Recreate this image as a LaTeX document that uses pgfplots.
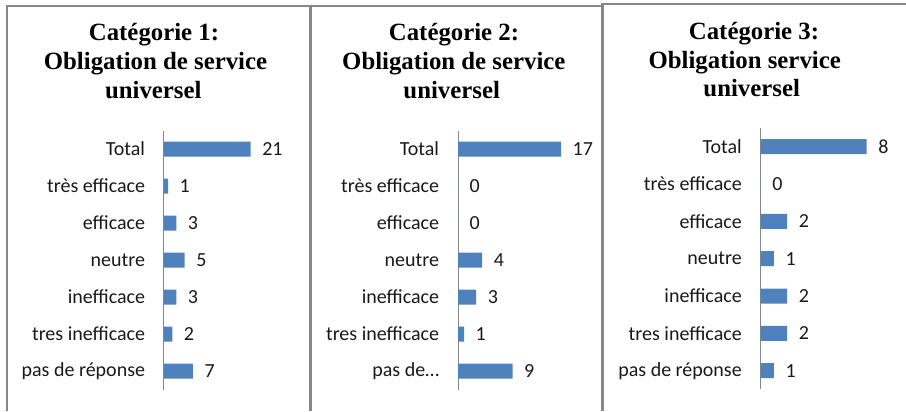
\documentclass[border=0pt]{standalone}
\usepackage{fontspec}
\setmainfont{Carlito}
\newfontfamily\titlefont{Liberation Serif}
\usepackage{pgfplots}
\pgfplotsset{compat=1.18}
\definecolor{barblue}{HTML}{4F81BD}
\definecolor{framegray}{HTML}{878787}
\definecolor{axisgray}{HTML}{868686}

\pgfplotsset{
  panel/.style={
    xbar, scale only axis,
    xmin=0, ymin=-0.5, ymax=6.5,
    axis x line=none, axis y line*=left,
    y axis line style={draw=axisgray, line width=0.75pt},
    ytick={0,...,6},
    major tick length=0pt,
    yticklabel style={font=\fontsize{15}{17}\selectfont, inner sep=0pt, xshift=-14pt, text=black!90},
    bar width=11.25pt,
    nodes near coords,
    every node near coord/.append style={font=\fontsize{15}{17}\selectfont, inner sep=0pt, anchor=west, xshift=8.5pt, text=black!90},
    /pgf/number format/assume math mode=true,
    anchor=north west,
    clip=false,
  }
}
\newcommand{\tfont}{\titlefont\bfseries\fontsize{18.6}{22}\selectfont}

\begin{document}
\begin{tikzpicture}[x=0.75pt, y=-0.75pt]
\useasboundingbox (0,0) rectangle (906,411);
% frames
\draw[framegray, line width=1.5pt] (7,411) -- (7,6) -- (310.3,6);
\draw[framegray, line width=1.8pt] (310.3,411) -- (310.3,6) -- (602.5,6);
\draw[framegray, line width=1.8pt] (602.5,411) -- (602.5,4) -- (906,4);

% titles
\node[font=\tfont, anchor=base] at (154,40.7) {Catégorie 1:};
\node[font=\tfont, anchor=base] at (155.5,69.7) {Obligation de service};
\node[font=\tfont, anchor=base] at (153.3,98.3) {universel};
\node[font=\tfont, anchor=base] at (454,40.7) {Catégorie 2:};
\node[font=\tfont, anchor=base] at (453.8,69.7) {Obligation de service};
\node[font=\tfont, anchor=base] at (451.7,98.3) {universel};
\node[font=\tfont, anchor=base] at (754,39) {Catégorie 3:};
\node[font=\tfont, anchor=base] at (744.7,68.2) {Obligation service};
\node[font=\tfont, anchor=base] at (751.7,96.7) {universel};

% panel 1
\begin{axis}[panel, at={(123pt,-97.875pt)}, width=77.44pt, height=194.25pt, xmax=25,
  yticklabels={pas de réponse, tres inefficace, inefficace, neutre, efficace, très efficace, Total}]
\addplot[fill=barblue, draw=none] coordinates {(7,0) (2,1) (3,2) (5,3) (3,4) (1,5) (21,6)};
\end{axis}

% panel 2
\begin{axis}[panel, at={(343.5pt,-97.875pt)}, width=90.9pt, height=194.25pt, xmax=20,
  yticklabels={pas de…, tres inefficace, inefficace, neutre, efficace, très efficace, Total}]
\addplot[fill=barblue, draw=none] coordinates {(9,0) (1,1) (3,2) (4,3) (0,4) (0,5) (17,6)};
\end{axis}

% panel 3
\begin{axis}[panel, at={(570.5pt,-96pt)}, width=99.4pt, height=196pt, xmax=10,
  yticklabels={pas de réponse, tres inefficace, inefficace, neutre, efficace, très efficace, Total}]
\addplot[fill=barblue, draw=none] coordinates {(1,0) (2,1) (2,2) (1,3) (2,4) (0,5) (8,6)};
\end{axis}
\end{tikzpicture}
\end{document}
